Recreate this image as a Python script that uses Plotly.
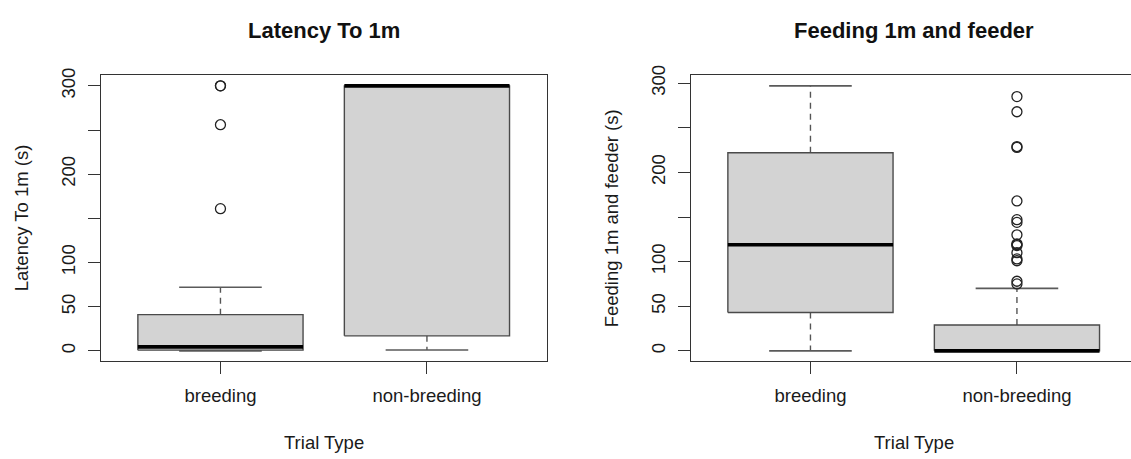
import plotly.graph_objects as go

# ---------------- data ----------------
categories = ["breeding", "non-breeding"]

# Panel 1: Latency To 1m
lat_lower = [0, 1]
lat_q1 = [0.8, 17]
lat_median = [4.5, 300]
lat_q3 = [41, 300]
lat_upper = [72, 300]
lat_outliers = [[161, 256, 300, 300], []]

# Panel 2: Feeding 1m and feeder
feed_lower = [0, 0]
feed_q1 = [43, 0]
feed_median = [119, 0]
feed_q3 = [222, 29]
feed_upper = [297, 70]
feed_outliers = [[], [285, 268, 229, 228, 168, 147, 144, 130, 120, 119, 118,
                      110, 103, 101, 78, 75]]

y_ticks = [0, 50, 100, 150, 200, 250, 300]
y_ticktext = ["0", "50", "100", "", "200", "", "300"]

titles = ["Latency To 1m", "Feeding 1m and feeder"]
ytitles = ["Latency To 1m (s)", "Feeding 1m and feeder (s)"]
xtitle = "Trial Type"

# ---------------- style ----------------
FONT = "Liberation Sans, Arial, Helvetica, sans-serif"
W, H = 1131, 459
BOX_HALF = 0.4
CAP_HALF = 0.2
FILL = "#D3D3D3"
EDGE = "#4a4a4a"
FRAME = "#333333"
TXT = "#1a1a1a"
FS = 18.5
FS_TITLE = 22

fig = go.Figure()


def add_panel(xa, ya, lower, q1, med, q3, upper, outs):
    for i, _ in enumerate(categories):
        c = i + 1
        # whiskers (dashed)
        fig.add_trace(go.Scatter(
            x=[c, c, None, c, c], y=[q3[i], upper[i], None, q1[i], lower[i]],
            mode="lines", line=dict(color="#555555", width=1.4, dash="6px,5px"),
            xaxis=xa, yaxis=ya, hoverinfo="skip", showlegend=False))
        # whisker caps
        fig.add_trace(go.Scatter(
            x=[c - CAP_HALF, c + CAP_HALF, None, c - CAP_HALF, c + CAP_HALF],
            y=[upper[i], upper[i], None, lower[i], lower[i]],
            mode="lines", line=dict(color="#5a5a5a", width=1.6),
            xaxis=xa, yaxis=ya, hoverinfo="skip", showlegend=False))
        # box
        fig.add_trace(go.Scatter(
            x=[c - BOX_HALF, c + BOX_HALF, c + BOX_HALF, c - BOX_HALF, c - BOX_HALF],
            y=[q1[i], q1[i], q3[i], q3[i], q1[i]],
            mode="lines", fill="toself", fillcolor=FILL,
            line=dict(color=EDGE, width=1.4),
            xaxis=xa, yaxis=ya, hoverinfo="skip", showlegend=False))
        # median
        fig.add_trace(go.Scatter(
            x=[c - BOX_HALF, c + BOX_HALF], y=[med[i], med[i]],
            mode="lines", line=dict(color="#000000", width=3.6),
            xaxis=xa, yaxis=ya, hoverinfo="skip", showlegend=False))
        # outliers
        if outs[i]:
            fig.add_trace(go.Scatter(
                x=[c] * len(outs[i]), y=outs[i], mode="markers",
                marker=dict(symbol="circle-open", size=10,
                            color="#222222", line=dict(width=1.3)),
                xaxis=xa, yaxis=ya, hoverinfo="skip", showlegend=False))


add_panel("x", "y", lat_lower, lat_q1, lat_median, lat_q3, lat_upper, lat_outliers)
add_panel("x2", "y2", feed_lower, feed_q1, feed_median, feed_q3, feed_upper, feed_outliers)

# panel geometry (pixels)
L1, R1 = 100.7, 546.7
L2 = 690.7
TOP, BOT = 66.7, 359.3
unit = (R1 - L1) / 2.16
x2_max = 0.42 + (W - L2) / unit

ydom = [1 - BOT / H, 1 - TOP / H]

common_x = dict(
    tickmode="array", tickvals=[1, 2], ticktext=categories,
    ticks="outside", ticklen=12, tickwidth=1, tickcolor=FRAME,
    showline=True, linecolor=FRAME, linewidth=1, mirror=True,
    showgrid=False, zeroline=False,
    tickfont=dict(family=FONT, size=FS, color=TXT),
    ticklabelstandoff=5,
)
common_y = dict(
    tickmode="array", tickvals=y_ticks, ticktext=y_ticktext,
    ticks="outside", ticklen=12, tickwidth=1, tickcolor=FRAME,
    showline=True, linecolor=FRAME, linewidth=1,
    showgrid=False, zeroline=False, tickangle=-90,
    tickfont=dict(family=FONT, size=FS, color=TXT),
    ticklabelstandoff=5,
)

fig.update_layout(
    width=W, height=H, autosize=False,
    margin=dict(l=0, r=0, t=0, b=0),
    paper_bgcolor="white", plot_bgcolor="white",
    showlegend=False,
    xaxis=dict(domain=[L1 / W, R1 / W], range=[0.42, 2.58], **common_x),
    xaxis2=dict(domain=[L2 / W, 1.0], range=[0.42, x2_max], anchor="y2", **common_x),
    yaxis=dict(domain=ydom, range=[-12, 312], anchor="x", mirror=True, **common_y),
    yaxis2=dict(domain=ydom, range=[-11.88, 308.88], anchor="x2", mirror=False, **common_y),
)

annotations = []
centers = [(L1 + R1) / 2, L2 + (R1 - L1) / 2]
ytitle_x = [21, 611]
for k in range(2):
    annotations.append(dict(
        text="<b>" + titles[k] + "</b>", x=centers[k] / W, y=1 - 21 / H,
        xref="paper", yref="paper", xanchor="center", yanchor="middle",
        showarrow=False, font=dict(family=FONT, size=FS_TITLE, color="#111111")))
    annotations.append(dict(
        text=xtitle, x=centers[k] / W, y=1 - 442 / H,
        xref="paper", yref="paper", xanchor="center", yanchor="middle",
        showarrow=False, font=dict(family=FONT, size=FS, color=TXT)))
    annotations.append(dict(
        text=ytitles[k], x=ytitle_x[k] / W, y=1 - ((TOP + BOT) / 2) / H,
        xref="paper", yref="paper", xanchor="center", yanchor="middle",
        textangle=-90, showarrow=False,
        font=dict(family=FONT, size=FS, color=TXT)))
fig.update_layout(annotations=annotations)

fig.write_html("out.html")
